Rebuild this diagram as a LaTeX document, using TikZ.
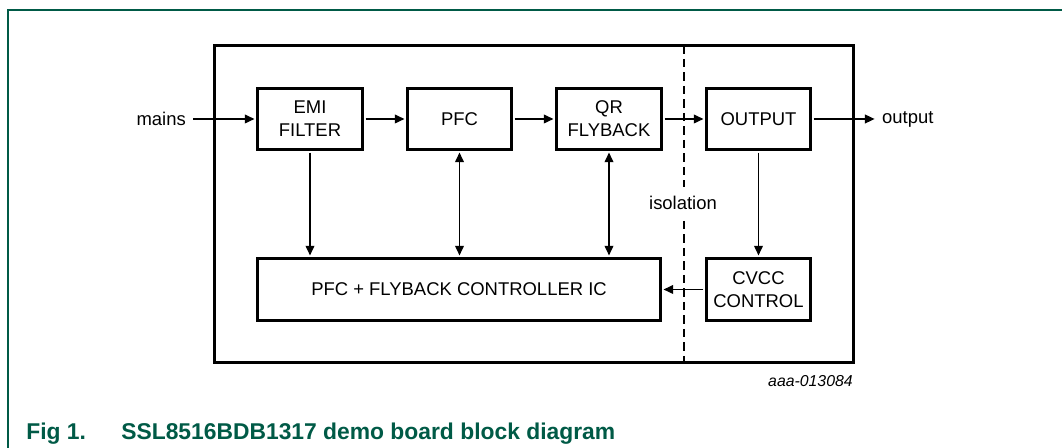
\documentclass[tikz,border=0pt]{standalone}
\usepackage{fontspec}
\setmainfont{Liberation Sans}
\usetikzlibrary{arrows.meta}
\definecolor{nxpgreen}{RGB}{0,90,70}
\begin{document}
\begin{tikzpicture}[>={Triangle[length=5.5pt,width=5pt]},
    blk/.style={draw,line width=1.6pt,inner sep=0pt,align=center,minimum height=1.23cm,font=\fontsize{10.5}{13}\selectfont},
    lbl/.style={font=\fontsize{10.5}{13}\selectfont},
    sig/.style={line width=0.8pt,shorten >=0.8pt,shorten <=0.8pt},
    figcap/.style={anchor=base west,inner sep=0pt,text=nxpgreen,font=\fontsize{13}{15}\selectfont\bfseries}]
    \useasboundingbox (0,0) rectangle (21.24,8.96);
    \draw[nxpgreen,line width=0.9pt] (0.16,-0.2)--(0.16,8.76)--(21.4,8.76);
    \draw[line width=1.6pt] (4.29,1.71) rectangle (17.07,8.05);
    \draw[line width=0.7pt,dash pattern=on 0.17cm off 0.1cm] (13.68,8.05)--(13.68,1.71);
    \node[blk,minimum width=2.11cm] (EMI) at (6.20,6.58) {EMI\\FILTER};
    \node[blk,minimum width=2.09cm] (PFC) at (9.19,6.58) {PFC};
    \node[blk,minimum width=2.11cm] (QR) at (12.18,6.58) {QR\\FLYBACK};
    \node[blk,minimum width=2.09cm] (OUT) at (15.17,6.58) {OUTPUT};
    \node[blk,minimum width=8.07cm,minimum height=1.25cm] (IC) at (9.18,3.17) {PFC + FLYBACK CONTROLLER IC};
    \node[blk,minimum width=2.09cm,minimum height=1.25cm] (CV) at (15.17,3.17) {CVCC\\CONTROL};
    \node[lbl,anchor=east] (mains) at (3.84,6.58) {mains};
    \node[lbl,anchor=west] (outlbl) at (17.52,6.58) {output};
    \node[lbl,fill=white,inner xsep=1pt,inner ysep=5pt] (iso) at (13.66,4.90) {isolation};
    \node[anchor=east,inner sep=0pt,font=\fontsize{9}{11}\selectfont\itshape] (ref) at (17.06,1.34) {aaa-013084};
    \node[figcap] (fig) at (0.52,0.16) {Fig 1.};
    \node[figcap] (title) at (2.42,0.16) {SSL8516BDB1317 demo board block diagram};
    \draw[sig,->] (mains.east)--(EMI.west);
    \foreach \a/\b in {EMI/PFC,PFC/QR,QR/OUT}
    {\draw[sig,->] (\a)--(\b);}
    \draw[sig,->] (OUT.east)--(outlbl.west);
    \draw[sig,->] (EMI)--(EMI |- IC.north);
    \foreach \n in {PFC,QR}
    {\draw[sig,<->] (\n)--(\n |- IC.north);}
    \draw[sig,->] (OUT)--(CV);
    \draw[sig,->] (CV)--(IC);
\end{tikzpicture}
\end{document}
